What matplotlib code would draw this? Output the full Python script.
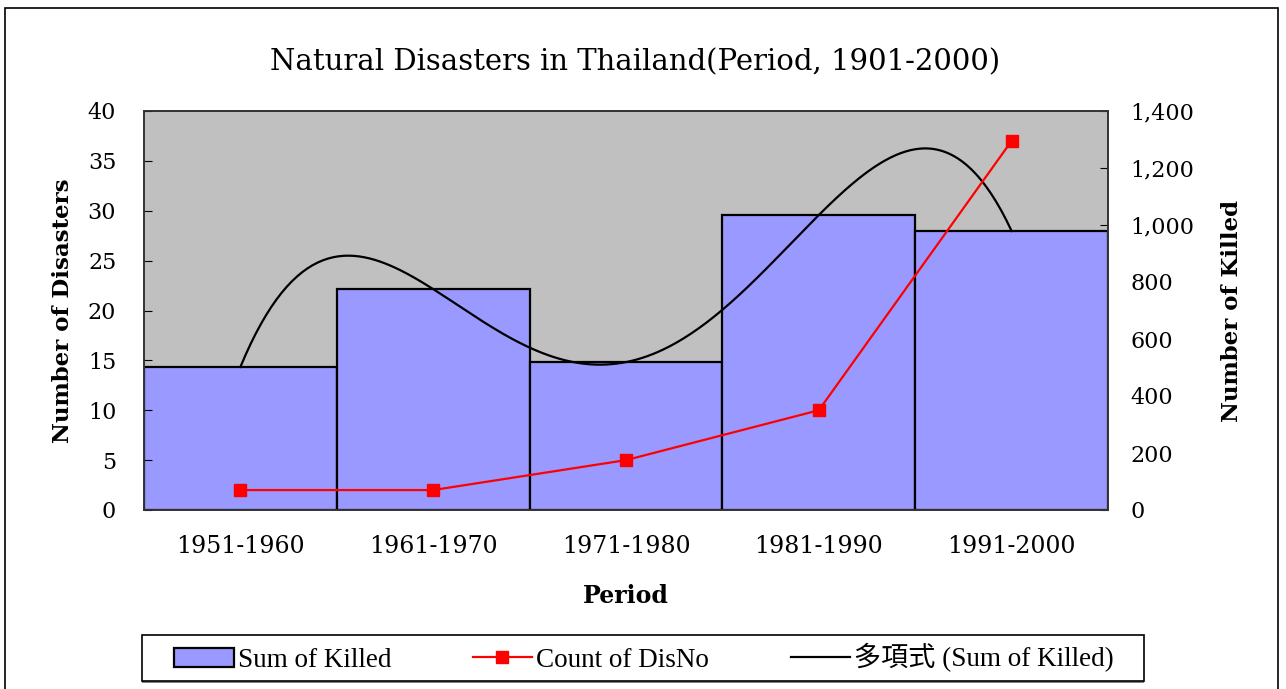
import numpy as np
import matplotlib
matplotlib.use("Agg")
import matplotlib.pyplot as plt
from matplotlib.patches import Rectangle
from matplotlib.ticker import FuncFormatter

periods = ["1951-1960", "1961-1970", "1971-1980", "1981-1990", "1991-2000"]
sum_killed = [502, 775, 519, 1035, 979]
count_disno = [2, 2, 5, 10, 37]

SERIF = "DejaVu Serif"
W, H = 1286, 689

fig = plt.figure(figsize=(12.86, 6.89), dpi=100)
ax2 = fig.add_axes([144 / W, 1 - 510 / H, 964 / W, 399 / H])
ax = ax2.twinx()
# counts on the left, killed on the right
ax.yaxis.tick_left()
ax.yaxis.set_label_position("left")
ax2.yaxis.tick_right()
ax2.yaxis.set_label_position("right")
ax.set_zorder(ax2.get_zorder() + 1)
ax.patch.set_visible(False)
ax2.set_facecolor("#C0C0C0")

x = np.arange(len(periods))
bars = ax2.bar(x, sum_killed, width=1.0, color="#9999FF", edgecolor="black",
               linewidth=1.6, zorder=2)

# 4th order polynomial trendline through the killed series
coef = np.polyfit(x, sum_killed, 4)
xs = np.linspace(x[0], x[-1], 300)
trend, = ax2.plot(xs, np.polyval(coef, xs), color="black", lw=1.6, zorder=3)

count_line, = ax.plot(x, count_disno, color="#FF0000", lw=1.6, marker="s",
                      markersize=9, zorder=4)

ax.set_xlim(-0.5, len(periods) - 0.5)
ax2.set_xlim(-0.5, len(periods) - 0.5)
ax.set_ylim(0, 40)
ax2.set_ylim(0, 1400)
ax.set_yticks(range(0, 41, 5))
ax2.set_yticks(range(0, 1401, 200))
ax2.yaxis.set_major_formatter(FuncFormatter(lambda v, p: f"{v:,.0f}"))
ax2.set_xticks(x)
ax2.set_xticklabels(periods, fontsize=17, family=SERIF)
ax2.tick_params(axis="x", length=0, pad=18)
ax.tick_params(axis="y", direction="in", length=6, labelsize=16, pad=20)
ax2.tick_params(axis="y", direction="in", length=6, labelsize=16, pad=16)
for lab in ax.get_yticklabels() + ax2.get_yticklabels():
    lab.set_family(SERIF)

for a in (ax, ax2):
    for s in a.spines.values():
        s.set_color("#333333")
        s.set_linewidth(1.2)

ax.set_ylabel("Number of Disasters", fontsize=16.5, family=SERIF,
              fontweight="bold", labelpad=10)
ax2.set_ylabel("Number of Killed", fontsize=16.5, family=SERIF,
               fontweight="bold", labelpad=19)
ax2.set_xlabel("Period", fontsize=17, family=SERIF, fontweight="bold",
               labelpad=19)

fig.text(0.494, 0.91, "Natural Disasters in Thailand(Period, 1901-2000)",
         ha="center", va="center", fontsize=21, family=SERIF)

# outer chart border
fig.patches.append(Rectangle((5 / W, -0.05), 1273 / W, 1.05 - 8 / H,
                             transform=fig.transFigure, fill=False,
                             edgecolor="black", lw=1.2))

# legend box with a small drop shadow, drawn separately from the entries
fig.patches.append(Rectangle((142 / W, 1 - 683 / H), 1002 / W, 46 / H,
                             transform=fig.transFigure, facecolor="#808080",
                             edgecolor="none"))
fig.patches.append(Rectangle((142 / W, 1 - 681 / H), 1002 / W, 46 / H,
                             transform=fig.transFigure, facecolor="white",
                             edgecolor="black", lw=1.2))

leg = fig.legend([bars, count_line, trend],
                 ["Sum of Killed", "Count of DisNo", "多項式 (Sum of Killed)"],
                 loc="center", ncol=3, mode="expand",
                 bbox_to_anchor=(174 / W, 1 - 681 / H, 940 / W, 46 / H),
                 frameon=False,
                 prop={"family": ["Liberation Serif", "Noto Sans CJK JP"], "size": 19.5},
                 handlelength=2.2, handletextpad=0.15, borderpad=0,
                 borderaxespad=0)

fig.savefig("out.png", dpi=100)
